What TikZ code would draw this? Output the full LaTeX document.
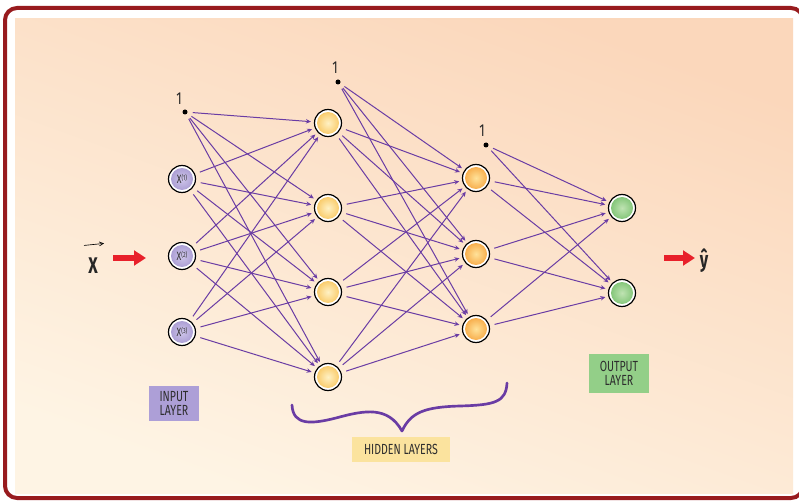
\documentclass[tikz,border=0pt]{standalone}
\usepackage{fontspec}
\newfontfamily\hand[FakeStretch=0.72]{Fira Sans}
\usetikzlibrary{arrows.meta}
\definecolor{framered}{HTML}{981B1E}
\definecolor{peachA}{HTML}{FBD7BB}
\definecolor{peachB}{HTML}{FEF4E4}
\definecolor{conncol}{HTML}{6A3CA4}
\definecolor{arrowred}{HTML}{E8202A}
\definecolor{inA}{HTML}{A597D0}
\definecolor{inB}{HTML}{CFC6EA}
\definecolor{hidA}{HTML}{F8C45A}
\definecolor{hidB}{HTML}{FFF1C4}
\definecolor{hid2A}{HTML}{F6A33C}
\definecolor{hid2B}{HTML}{FFE29A}
\definecolor{outA}{HTML}{78C06E}
\definecolor{outB}{HTML}{BFE3B2}
\definecolor{boxpurple}{HTML}{AD9FD7}
\definecolor{boxgreen}{HTML}{93CF88}
\definecolor{boxyellow}{HTML}{FBE39E}
\definecolor{labeltext}{HTML}{2E2E2E}
\def\px{0.75pt}
\tikzset{
  neuron/.style={circle, draw=black, line width=0.9pt, fill=white, minimum size=27*\px, inner sep=0pt},
  inneuron/.style={neuron, path picture={\shade[inner color=inB, outer color=inA] (path picture bounding box.center) circle (11*\px);}},
  hidneuron/.style={neuron, path picture={\shade[inner color=hidB, outer color=hidA] (path picture bounding box.center) circle (11*\px);}},
  hidtwoneuron/.style={neuron, path picture={\shade[inner color=hid2B, outer color=hid2A] (path picture bounding box.center) circle (11*\px);}},
  outneuron/.style={neuron, path picture={\shade[inner color=outB, outer color=outA] (path picture bounding box.center) circle (11*\px);}},
  biasdot/.style={circle, fill=black, inner sep=0pt, minimum size=5*\px},
  biaslabel/.style={font=\hand\fontsize{13}{13}\selectfont, text=black!85},
  conn/.style={draw=conncol, line width=0.75pt, -{Stealth[length=5*\px, width=4.5*\px]}, shorten <=5*\px, shorten >=3*\px},
  redarrow/.style={draw=arrowred, line width=4.5pt, -{Triangle[length=9pt, width=11pt]}},
  layerbox/.style={font=\hand\fontsize{11}{11}\selectfont, text=labeltext, align=center, inner sep=0pt},
  bigletter/.style={font=\hand\bfseries\fontsize{17}{17}\selectfont, text=black!85},
  intext/.style={font=\hand\fontsize{9}{9}\selectfont, text=black!80}
}
\begin{document}
\begin{tikzpicture}[x=0.75pt, y=-0.75pt]
\useasboundingbox (0,0) rectangle (799,502);
% frame and background
\draw[line width=3pt, draw=framered, fill=white, rounded corners=9pt] (5,8) rectangle (803,498);
\shade[top color=peachA, bottom color=peachB, shading angle=-20] (15,19) rectangle (793,493);
% bias nodes
\node[biasdot] (b1) at (185,112) {};
\node[biasdot] (b2) at (338,82) {};
\node[biasdot] (b3) at (486,145) {};
\node[biaslabel] (l1) at (179,99) {1};
\node[biaslabel] (l2) at (335,68) {1};
\node[biaslabel] (l3) at (482,131) {1};
% input
\node[inneuron, intext] (i1) at (182,179) {X\raisebox{2.5pt}{\fontsize{5.5}{5.5}\selectfont(1)}};
\node[inneuron, intext] (i2) at (182,256) {X\raisebox{2.5pt}{\fontsize{5.5}{5.5}\selectfont(2)}};
\node[inneuron, intext] (i3) at (182,332) {X\raisebox{2.5pt}{\fontsize{5.5}{5.5}\selectfont(3)}};
% hidden 1
\node[hidneuron] (h1) at (328,123) {};
\node[hidneuron] (h2) at (328,208) {};
\node[hidneuron] (h3) at (328,292) {};
\node[hidneuron] (h4) at (328,377) {};
% hidden 2
\node[hidtwoneuron] (g1) at (476,178) {};
\node[hidtwoneuron] (g2) at (476,254) {};
\node[hidtwoneuron] (g3) at (476,329) {};
% output
\node[outneuron] (o1) at (622,208) {};
\node[outneuron] (o2) at (622,293) {};
% connections
\foreach \s in {b1,i1,i2,i3} \foreach \t in {h1,h2,h3,h4} \draw[conn] (\s) -- (\t);
\foreach \s in {b2,h1,h2,h3,h4} \foreach \t in {g1,g2,g3} \draw[conn] (\s) -- (\t);
\foreach \s in {b3,g1,g2,g3} \foreach \t in {o1,o2} \draw[conn] (\s) -- (\t);
% x vector and y hat
\node[bigletter] (xv) at (93,266) {X};
\draw[line width=0.5pt, -{Straight Barb[length=3pt, width=3pt]}] ([xshift=-9*\px, yshift=8*\px]xv.north) -- ([xshift=11*\px, yshift=10*\px]xv.north);
\coordinate (xa) at (113,258);
\coordinate (xb) at (146,258);
\draw[redarrow] (xa) -- (xb);
\coordinate (ya) at (664,258);
\coordinate (yb) at (695,258);
\draw[redarrow] (ya) -- (yb);
\node[bigletter] (yh) at (704,261) {\^{y}};
% layer labels
\node[layerbox, fill=boxpurple, minimum width=50*\px, minimum height=35*\px] (inbox) at (174,403.5) {INPUT\\[-1pt]LAYER};
\node[layerbox, fill=boxgreen, minimum width=60*\px, minimum height=39*\px] (outbox) at (619,373.5) {OUTPUT\\[-1pt]LAYER};
\node[layerbox, fill=boxyellow, minimum width=98*\px, minimum height=25*\px] (hidbox) at (401,449.5) {HIDDEN LAYERS};
% brace
\draw[draw=conncol, line width=2pt, line cap=round, line join=round]
  (292,405) .. controls (293,426) and (312,424) .. (336,418)
  .. controls (365,410) and (388,406) .. (402,431)
  .. controls (411,412) and (425,407) .. (460,406)
  .. controls (495,405) and (506,402) .. (507,383);
\end{tikzpicture}
\end{document}
